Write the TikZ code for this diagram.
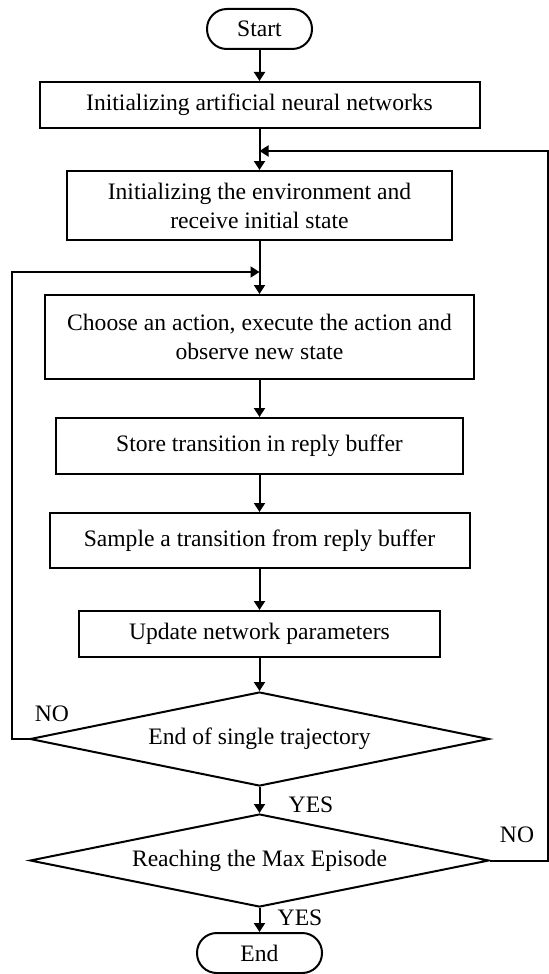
\documentclass[tikz,border=0pt]{standalone}
\usepackage{fontspec}
\setmainfont{Liberation Serif}
\usetikzlibrary{shapes.geometric,arrows.meta}
\tikzset{
  procbox/.style={draw,inner sep=0pt,align=center},
  termbox/.style={draw,inner sep=0pt,rounded corners=9.9pt,minimum height=20pt},
  decbox/.style={draw,diamond,inner sep=0pt,aspect=4.9,minimum width=229.5pt},
}
\begin{document}
\begin{tikzpicture}[x=0.5pt,y=-0.5pt,line width=1pt,
    font=\fontsize{11.8}{14.5}\selectfont,
    >={Triangle[width=5.5pt,length=4.5pt]}]
  \useasboundingbox (0,0) rectangle (548,974);
  % blocks
  \node[termbox,minimum width=52.5pt] (start) at (259.5,29) {Start};
  \node[procbox,minimum width=220pt,minimum height=23pt] (init) at (259.5,105) {Initializing artificial neural networks};
  \node[procbox,minimum width=192.5pt,minimum height=34.5pt] (env) at (259.5,205.5) {Initializing the environment and\\receive initial state};
  \node[procbox,minimum width=214.5pt,minimum height=42pt] (act) at (259.5,337) {Choose an action, execute the action and\\observe new state};
  \node[procbox,minimum width=203.5pt,minimum height=28pt] (store) at (259.5,446) {Store transition in reply buffer};
  \node[procbox,minimum width=210pt,minimum height=27.5pt] (sample) at (259.5,540.5) {Sample a transition from reply buffer};
  \node[procbox,minimum width=180.5pt,minimum height=23pt] (update) at (259.5,634) {Update network parameters};
  \node[decbox,minimum height=47pt] (traj) at (259.5,739) {End of single trajectory};
  \node[decbox,minimum height=46.5pt] (maxep) at (259.5,860.5) {Reaching the Max Episode};
  \node[termbox,minimum width=62.5pt] (end) at (259.5,953) {End};
  % labels
  \node (noleft) at (52,714) {NO};
  \node (noright) at (517,835) {NO};
  \node (yestraj) at (311,805) {YES};
  \node (yesmax) at (300,918) {YES};
  % joins on the main line
  \coordinate (jl) at (259.5,272);
  \coordinate (jr) at (259.5,151);
  % arrows
  \draw[->] (start.south) -- (init.north);
  \draw[->] (init.south) -- (env.north);
  \draw[->] (env.south) -- (act.north);
  \draw[->] (act.south) -- (store.north);
  \draw[->] (store.south) -- (sample.north);
  \draw[->] (sample.south) -- (update.north);
  \draw[->] (update.south) -- (traj.north);
  \draw[->] (traj.south) -- (maxep.north);
  \draw[->] (maxep.south) -- (end.north);
  \draw[->] (traj.west) -- ++(-17,0) |- (jl);
  \draw[->] (maxep.east) -- ++(58,0) |- (jr);
\end{tikzpicture}
\end{document}
